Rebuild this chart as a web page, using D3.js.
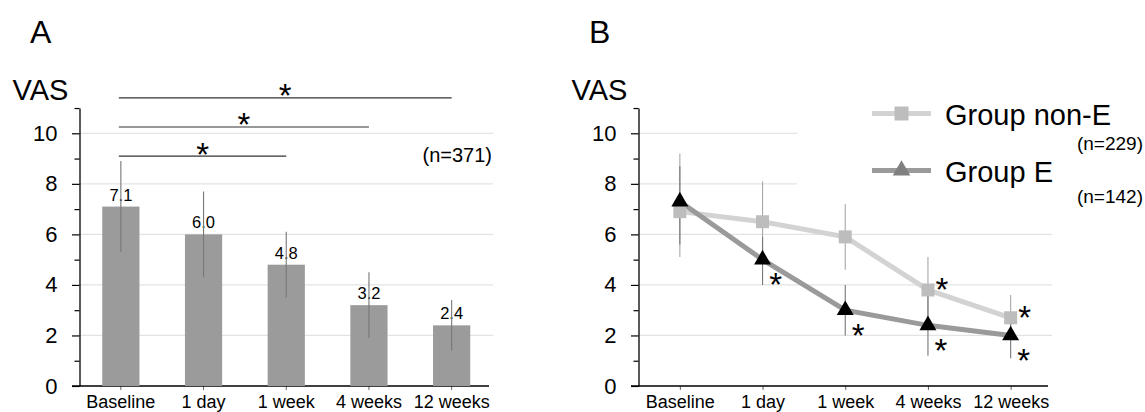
<!DOCTYPE html>
<html>
<head>
<meta charset="utf-8">
<script src="https://cdn.jsdelivr.net/npm/d3@7"></script>
<style>
  body { margin: 0; background: #fff; }
  svg { display: block; font-family: "Liberation Sans", Arial, sans-serif; }
</style>
</head>
<body>
<div id="main"></div>
<script>
/*********************************************************
 * Data
 *********************************************************/

const categories = ['Baseline', '1 day', '1 week', '4 weeks', '12 weeks'];

// Panel A: all patients
const vasMean = [7.1, 6.0, 4.8, 3.2, 2.4];
const vasLow = [5.3, 4.3, 3.5, 1.9, 1.4];
const vasHigh = [8.9, 7.7, 6.1, 4.5, 3.4];
const sigTargets = ['1 week', '4 weeks', '12 weeks'];
const sigLevels = [9.1, 10.25, 11.4];

// Panel B: by group
const seriesNames = ['Group non-E', 'Group E'];
const seriesN = ['(n=229)', '(n=142)'];
const nonEMean = [6.9, 6.5, 5.9, 3.8, 2.7];
const nonELow = [5.1, 4.9, 4.6, 2.5, 1.8];
const nonEHigh = [9.2, 8.1, 7.2, 5.1, 3.6];
const nonESig = [false, false, false, true, true];
const eMean = [7.3, 5.0, 3.0, 2.4, 2.0];
const eLow = [5.6, 4.0, 2.0, 1.2, 1.1];
const eHigh = [8.7, 5.9, 4.0, 3.6, 2.9];
const eSig = [false, true, true, true, true];

const yTicks = d3.range(0, 12);
const gridValues = [2, 4, 6, 8, 10];

/*********************************************************
 * Layout
 *********************************************************/

const svgWidth = 1145;
const svgHeight = 412;
const plotW = 413.5;
const axisA = 79.5;
const axisB = 638.5;

const svg = d3
  .select('#main')
  .append('svg')
  .attr('width', svgWidth)
  .attr('height', svgHeight);

svg.append('rect').attr('width', svgWidth).attr('height', svgHeight).attr('fill', '#fff');

const y = d3.scaleLinear().domain([0, 11]).range([386, 386 - 11 * 25.27]);

// draws gridlines, y axis, x axis line; returns group
function drawFrame(ax, xScale, panelLabel) {
  const g = svg.append('g');

  g.selectAll('.grid')
    .data(gridValues)
    .join('line')
    .attr('class', 'grid')
    .attr('x1', ax)
    .attr('x2', ax + plotW)
    .attr('y1', d => y(d))
    .attr('y2', d => y(d))
    .attr('stroke', '#e3e3e3')
    .attr('stroke-width', 1.2);

  const yAxis = d3
    .axisLeft(y)
    .tickValues(yTicks)
    .tickSize(7.5)
    .tickSizeOuter(0)
    .tickPadding(14.5)
    .tickFormat(d => (d % 2 === 0 && d <= 10 ? d : ''));

  const ya = g
    .append('g')
    .attr('transform', `translate(${ax},0)`)
    .call(yAxis)
    .attr('font-family', null)
    .attr('font-size', null);
  ya.select('.domain').attr('stroke', '#000').attr('stroke-width', 1.3);
  ya.selectAll('.tick line').attr('stroke', '#000').attr('stroke-width', 1.2);
  ya.selectAll('.tick line').filter(d => d % 2 === 1).attr('x2', -5);
  ya.selectAll('.tick text').attr('font-size', '22px').attr('fill', '#000');

  const xAxis = d3.axisBottom(xScale).tickSize(4).tickSizeOuter(0).tickPadding(5);
  const xa = g
    .append('g')
    .attr('transform', `translate(0,${y(0)})`)
    .call(xAxis)
    .attr('font-family', null)
    .attr('font-size', null);
  xa.select('.domain').remove();
  xa.selectAll('.tick line').attr('stroke', '#666');
  xa.selectAll('.tick text').attr('font-size', '18px').attr('fill', '#000');

  g.append('line')
    .attr('x1', ax - 7.5)
    .attr('x2', ax + plotW - 4)
    .attr('y1', y(0))
    .attr('y2', y(0))
    .attr('stroke', '#000')
    .attr('stroke-width', 1.3);

  g.append('text')
    .attr('x', ax - 67)
    .attr('y', 100)
    .attr('font-size', '29px')
    .text('VAS');

  g.append('text')
    .attr('x', ax - 49.5)
    .attr('y', 43)
    .attr('font-size', '32px')
    .text(panelLabel);

  return g;
}

function star(g, cx, cy) {
  g.append('text')
    .attr('x', cx)
    .attr('y', cy)
    .attr('dy', '0.56em')
    .attr('text-anchor', 'middle')
    .attr('font-size', '33px')
    .attr('font-weight', 300)
    .text('*');
}

/*********************************************************
 * Panel A: bars
 *********************************************************/

const xA = d3
  .scaleBand()
  .domain(categories)
  .range([axisA, axisA + plotW])
  .paddingInner(0.55)
  .paddingOuter(0.275);

const gA = drawFrame(axisA, xA, 'A');

gA.selectAll('.bar')
  .data(vasMean)
  .join('rect')
  .attr('class', 'bar')
  .attr('x', (d, i) => xA(categories[i]))
  .attr('y', d => y(d))
  .attr('width', xA.bandwidth())
  .attr('height', d => y(0) - y(d))
  .attr('fill', '#9b9b9b');

gA.selectAll('.val')
  .data(vasMean)
  .join('text')
  .attr('class', 'val')
  .attr('x', (d, i) => xA(categories[i]) + xA.bandwidth() / 2)
  .attr('y', d => y(d) - 6)
  .attr('text-anchor', 'middle')
  .attr('font-size', '16.5px')
  .text(d => d.toFixed(1));

gA.selectAll('.err')
  .data(vasMean)
  .join('line')
  .attr('class', 'err')
  .attr('x1', (d, i) => xA(categories[i]) + xA.bandwidth() / 2)
  .attr('x2', (d, i) => xA(categories[i]) + xA.bandwidth() / 2)
  .attr('y1', (d, i) => y(vasLow[i]))
  .attr('y2', (d, i) => y(vasHigh[i]))
  .attr('stroke', '#777')
  .attr('stroke-width', 1.1);

// significance brackets from baseline
const cA = c => xA(c) + xA.bandwidth() / 2;
sigTargets.forEach((t, i) => {
  const x1 = cA(categories[0]) - 2;
  const x2 = cA(t);
  gA.append('line')
    .attr('x1', x1)
    .attr('x2', x2)
    .attr('y1', y(sigLevels[i]))
    .attr('y2', y(sigLevels[i]))
    .attr('stroke', '#333')
    .attr('stroke-width', 1.2);
  star(gA, (x1 + x2) / 2, y(sigLevels[i]) - 9);
});

gA.append('text')
  .attr('x', axisA + plotW - 1)
  .attr('y', 162)
  .attr('text-anchor', 'end')
  .attr('font-size', '20px')
  .text('(n=371)');

/*********************************************************
 * Panel B: lines
 *********************************************************/

const xB = d3
  .scalePoint()
  .domain(categories)
  .range([axisB, axisB + plotW])
  .padding(0.5);

const gB = drawFrame(axisB, xB, 'B');

// legend background hides the upper gridlines
gB.append('rect')
  .attr('x', 797)
  .attr('y', 95)
  .attr('width', svgWidth - 797)
  .attr('height', 112)
  .attr('fill', '#fff');

const series = [
  { mean: nonEMean, low: nonELow, high: nonEHigh, sig: nonESig, line: '#d3d3d3', err: '#a8a8a8', marker: 'square' },
  { mean: eMean, low: eLow, high: eHigh, sig: eSig, line: '#9a9a9a', err: '#777', marker: 'triangle' }
];

const lineGen = d3
  .line()
  .x((d, i) => xB(categories[i]))
  .y(d => y(d));

series.forEach(s => {
  gB.selectAll(null)
    .data(s.mean)
    .join('line')
    .attr('x1', (d, i) => xB(categories[i]))
    .attr('x2', (d, i) => xB(categories[i]))
    .attr('y1', (d, i) => y(s.low[i]))
    .attr('y2', (d, i) => y(s.high[i]))
    .attr('stroke', s.err)
    .attr('stroke-width', 1.1);
});

series.forEach(s => {
  gB.append('path')
    .datum(s.mean)
    .attr('d', lineGen)
    .attr('fill', 'none')
    .attr('stroke', s.line)
    .attr('stroke-width', 5);
});

const squareSym = d3.symbol().type(d3.symbolSquare).size(169);
const triSym = d3.symbol().type(d3.symbolTriangle).size(125);

gB.selectAll('.sq')
  .data(nonEMean)
  .join('path')
  .attr('class', 'sq')
  .attr('d', squareSym)
  .attr('transform', (d, i) => `translate(${xB(categories[i])},${y(d)})`)
  .attr('fill', '#bdbdbd');

gB.selectAll('.tri')
  .data(eMean)
  .join('path')
  .attr('class', 'tri')
  .attr('d', triSym)
  .attr('transform', (d, i) => `translate(${xB(categories[i])},${y(d)})`)
  .attr('fill', '#000');

nonEMean.forEach((d, i) => {
  if (nonESig[i]) star(gB, xB(categories[i]) + 14, y(d) - 7);
});
eMean.forEach((d, i) => {
  if (eSig[i]) star(gB, xB(categories[i]) + 13, y(d) + 18);
});

// legend
const legendY = [113.5, 170.5];
seriesNames.forEach((name, i) => {
  const s = series[i];
  gB.append('line')
    .attr('x1', 872)
    .attr('x2', 931)
    .attr('y1', legendY[i])
    .attr('y2', legendY[i])
    .attr('stroke', s.line)
    .attr('stroke-width', 5);
  gB.append('path')
    .attr('d', s.marker === 'square' ? d3.symbol().type(d3.symbolSquare).size(196)() : d3.symbol().type(d3.symbolTriangle).size(135)())
    .attr('transform', `translate(901.5,${legendY[i]})`)
    .attr('fill', s.marker === 'square' ? '#bdbdbd' : '#808080');
  gB.append('text')
    .attr('x', 945)
    .attr('y', legendY[i] + 11)
    .attr('font-size', '29px')
    .text(name);
  gB.append('text')
    .attr('x', 1143)
    .attr('y', legendY[i] + (i === 0 ? 36.5 : 32.5))
    .attr('text-anchor', 'end')
    .attr('font-size', '19px')
    .text(seriesN[i]);
});
</script>
</body>
</html>
